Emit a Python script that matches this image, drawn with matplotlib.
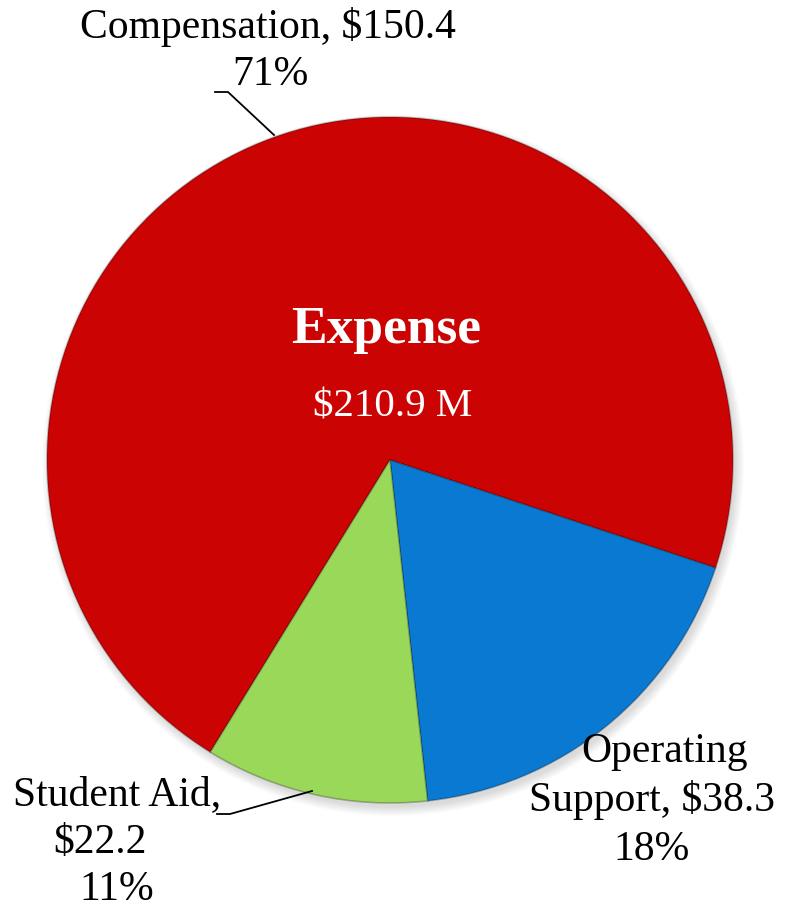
import matplotlib
matplotlib.use("Agg")
import matplotlib.pyplot as plt
from matplotlib.patches import Circle

categories = ["Compensation", "Operating Support", "Student Aid"]
values = [150.4, 38.3, 22.2]
percents = ["71%", "18%", "11%"]
colors = ["#CC0303", "#0A79D2", "#9AD85A"]
total_label = "$210.9 M"
title_label = "Expense"

W, H = 794, 912
fig = plt.figure(figsize=(W / 100, H / 100), dpi=100)
ax = fig.add_axes([0, 0, 1, 1])

cx, cy, r = 390, H - 461, 343

# soft shadow
for i in range(12):
    ax.add_patch(Circle((cx + 3, cy - 5), r + 8 - i * 0.8, color="black",
                        alpha=0.012, lw=0, zorder=0))

wedges, _ = ax.pie(values, colors=colors, startangle=238.4, counterclock=False,
                   center=(cx, cy), radius=r, frame=True,
                   wedgeprops=dict(edgecolor="#00000040", linewidth=1.2))
ax.set_xlim(0, W)
ax.set_ylim(0, H)
ax.set_aspect("equal")
ax.axis("off")
for w in wedges:
    w.set_zorder(2)

font = "Liberation Serif"
fs = 30

ax.text(386, H - 330, title_label, ha="center", va="center", color="white",
        fontsize=38.5, fontweight="bold", family=font)
ax.text(393, H - 407, total_label, ha="center", va="center", color="white",
        fontsize=29.5, family=font)

ax.text(268, H - 27, f"{categories[0]}, ${values[0]:.1f}", ha="center", va="center",
        fontsize=fs, family=font)
ax.text(270, H - 75, percents[0], ha="center", va="center", fontsize=fs, family=font)

ax.text(665, H - 752, "Operating", ha="center", va="center", fontsize=fs, family=font)
ax.text(652, H - 800, f"Support, ${values[1]:.1f}", ha="center", va="center",
        fontsize=fs, family=font)
ax.text(652, H - 850, percents[1], ha="center", va="center", fontsize=fs, family=font)

ax.text(117, H - 795, "Student Aid,", ha="center", va="center", fontsize=fs, family=font)
ax.text(100, H - 843, f"${values[2]:.1f}", ha="center", va="center", fontsize=fs, family=font)
ax.text(117, H - 890, percents[2], ha="center", va="center", fontsize=fs, family=font)

# leader lines
ax.plot([215, 228, 274], [H - 93, H - 93, H - 136], color="black", lw=1.3, zorder=5)
ax.plot([217, 230, 312], [H - 815, H - 815, H - 792], color="black", lw=1.3, zorder=5)

fig.savefig("out.png", dpi=100)
